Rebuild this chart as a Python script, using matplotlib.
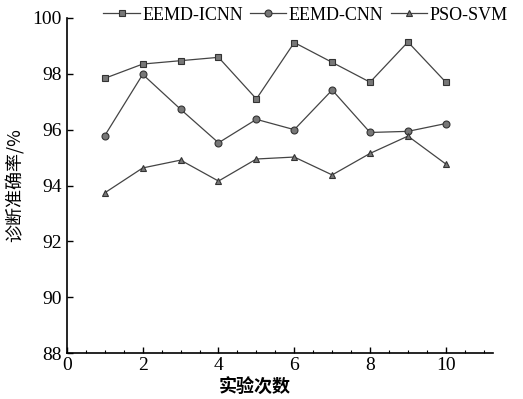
import matplotlib
matplotlib.use("Agg")
import matplotlib.pyplot as plt
from matplotlib.ticker import MultipleLocator

plt.rcParams['font.family'] = ['Liberation Serif', 'Noto Sans CJK SC']

runs = [1, 2, 3, 4, 5, 6, 7, 8, 9, 10]
eemd_icnn = [97.84, 98.35, 98.47, 98.59, 97.10, 99.12, 98.41, 97.70, 99.14, 97.70]
eemd_cnn = [95.79, 97.98, 96.73, 95.53, 96.37, 96.00, 97.42, 95.90, 95.94, 96.22]
pso_svm = [93.74, 94.63, 94.91, 94.16, 94.95, 95.02, 94.38, 95.15, 95.77, 94.77]

fig = plt.figure(figsize=(5.23, 3.99), dpi=100)
ax = fig.add_axes([0.128, 0.115, 0.815, 0.84])

line_kw = dict(color='#444444', linewidth=0.9, markersize=5,
               markerfacecolor='#777777', markeredgecolor='#333333', markeredgewidth=0.8)
ax.plot(runs, eemd_icnn, marker='s', label='EEMD-ICNN', **line_kw)
ax.plot(runs, eemd_cnn, marker='o', label='EEMD-CNN', **line_kw)
ax.plot(runs, pso_svm, marker='^', label='PSO-SVM', **line_kw)

ax.set_xlim(0, 11.25)
ax.set_ylim(88, 100)
ax.xaxis.set_major_locator(MultipleLocator(2))
ax.xaxis.set_minor_locator(MultipleLocator(0.5))
ax.yaxis.set_major_locator(MultipleLocator(2))
ax.spines['top'].set_visible(False)
ax.spines['right'].set_visible(False)
for s in ['left', 'bottom']:
    ax.spines[s].set_linewidth(1.2)
ax.tick_params(axis='both', which='major', direction='in', length=4, width=1, labelsize=14)
ax.tick_params(axis='x', which='minor', direction='in', length=2, width=0.8)
ax.tick_params(axis='x', which='major', pad=3)

ax.set_xlabel('实验次数', fontsize=13, fontweight='bold', family=['Noto Sans CJK SC'], labelpad=0)
ax.xaxis.set_label_coords(0.44, -0.075)
ax.set_ylabel('诊断准确率/%', fontsize=13, family=['Noto Sans CJK SC', 'DejaVu Sans'], labelpad=6)

fig.legend(loc='upper right', bbox_to_anchor=(0.995, 1.015), ncol=3, frameon=False,
           fontsize=13, handlelength=2.0, handletextpad=0.15, columnspacing=0.4,
           borderaxespad=0.3)

fig.savefig('out.png', dpi=100)
